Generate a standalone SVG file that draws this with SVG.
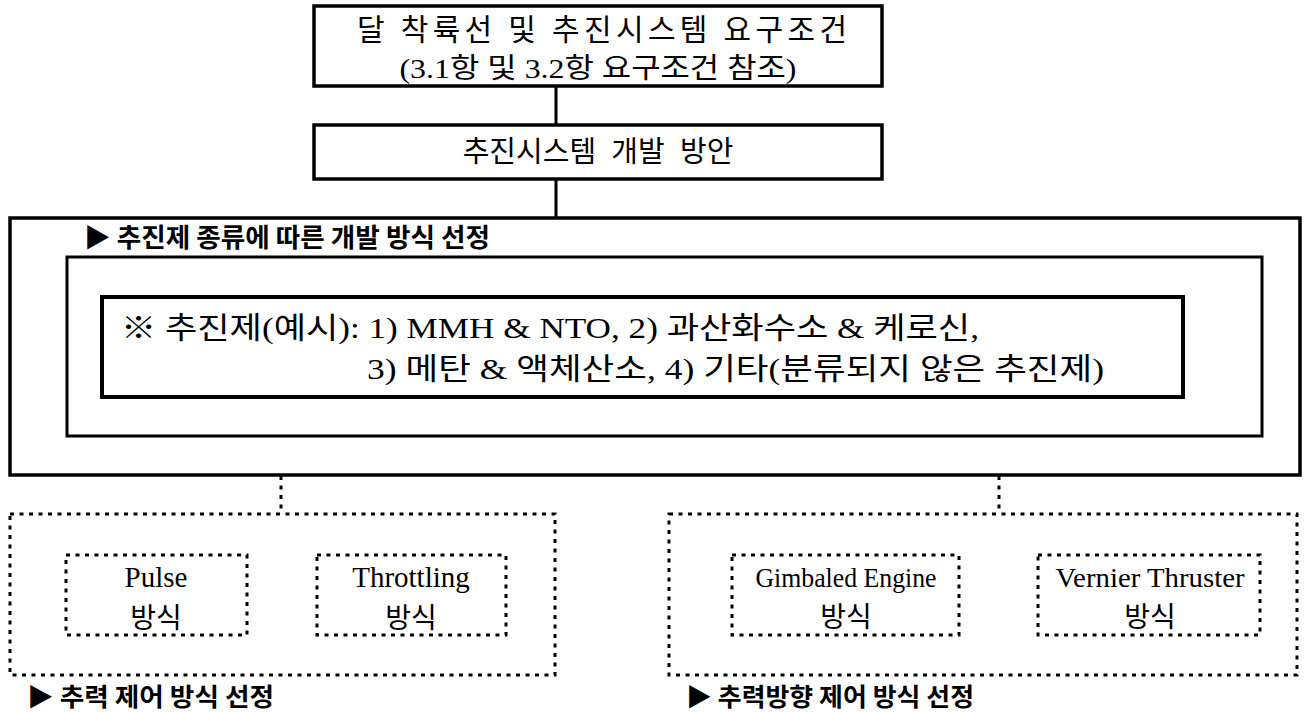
<svg xmlns="http://www.w3.org/2000/svg" width="1304" height="712" viewBox="0 0 1304 712">
<style>
.box{fill:#fff;stroke:#000;stroke-width:3.5}
.dot{fill:none;stroke:#000;stroke-width:3;stroke-dasharray:4 5.5}
.t{font-family:"Liberation Serif","Noto Sans CJK KR",serif;fill:#000}
.b{font-family:"Noto Sans CJK KR","Liberation Sans",sans-serif;font-weight:bold;fill:#000}
</style>
<rect width="1304" height="712" fill="#fff"/>
<g id="connectors">
<line x1="556" y1="86" x2="556" y2="125" stroke="#000" stroke-width="3"/>
<line x1="556" y1="179" x2="556" y2="218" stroke="#000" stroke-width="3"/>
<line class="dot" x1="281" y1="476" x2="281" y2="514"/>
<line class="dot" x1="999" y1="476" x2="999" y2="514"/>
</g>
<g id="req">
<rect class="box" x="314" y="6" width="568" height="80"/>
<text class="t" x="357" y="40" font-size="30" textLength="490" lengthAdjust="spacing">달 착륙선 및 추진시스템 요구조건</text>
<text class="t" x="598" y="78" font-size="28" text-anchor="middle" textLength="397" lengthAdjust="spacingAndGlyphs">(3.1항 및 3.2항 요구조건 참조)</text>
</g>
<g id="dev">
<rect class="box" x="314" y="125" width="568" height="54"/>
<text class="t" x="598" y="162" font-size="29" text-anchor="middle" word-spacing="8">추진시스템 개발 방안</text>
</g>
<g id="propellant">
<rect class="box" x="10" y="218" width="1290" height="257"/>
<text class="b" x="84" y="247" font-size="26" textLength="406" lengthAdjust="spacingAndGlyphs">▶ 추진제 종류에 따른 개발 방식 선정</text>
<rect x="67" y="257" width="1195" height="179" fill="none" stroke="#000" stroke-width="3"/>
<rect x="102" y="297" width="1081" height="100" fill="none" stroke="#000" stroke-width="4"/>
<text class="t" x="121" y="338" font-size="30" textLength="858" lengthAdjust="spacingAndGlyphs">※ 추진제(예시): 1) MMH &amp; NTO, 2) 과산화수소 &amp; 케로신,</text>
<text class="t" x="367" y="379" font-size="30" textLength="737" lengthAdjust="spacingAndGlyphs">3) 메탄 &amp; 액체산소, 4) 기타(분류되지 않은 추진제)</text>
</g>
<g id="thrust">
<rect class="dot" x="10" y="514" width="545" height="161"/>
<g id="pulse">
<rect class="dot" x="66" y="555" width="181" height="80"/>
<text class="t" x="156" y="587" font-size="29" text-anchor="middle">Pulse</text>
<text class="t" x="156" y="628" font-size="28" text-anchor="middle">방식</text>
</g>
<g id="throttling">
<rect class="dot" x="317" y="555" width="189" height="80"/>
<text class="t" x="411" y="587" font-size="29" text-anchor="middle">Throttling</text>
<text class="t" x="411" y="628" font-size="28" text-anchor="middle">방식</text>
</g>
<text class="b" x="27" y="706" font-size="25" textLength="247" lengthAdjust="spacingAndGlyphs">▶ 추력 제어 방식 선정</text>
</g>
<g id="direction">
<rect class="dot" x="669" y="514" width="628" height="161"/>
<g id="gimbal">
<rect class="dot" x="732" y="555" width="227" height="80"/>
<text class="t" x="846" y="587" font-size="28" text-anchor="middle" textLength="181" lengthAdjust="spacingAndGlyphs">Gimbaled Engine</text>
<text class="t" x="846" y="627" font-size="28" text-anchor="middle">방식</text>
</g>
<g id="vernier">
<rect class="dot" x="1038" y="555" width="222" height="80"/>
<text class="t" x="1150" y="587" font-size="28" text-anchor="middle" textLength="189" lengthAdjust="spacingAndGlyphs">Vernier  Thruster</text>
<text class="t" x="1150" y="627" font-size="28" text-anchor="middle">방식</text>
</g>
<text class="b" x="686" y="706" font-size="25" textLength="288" lengthAdjust="spacingAndGlyphs">▶ 추력방향 제어 방식 선정</text>
</g>
</svg>
